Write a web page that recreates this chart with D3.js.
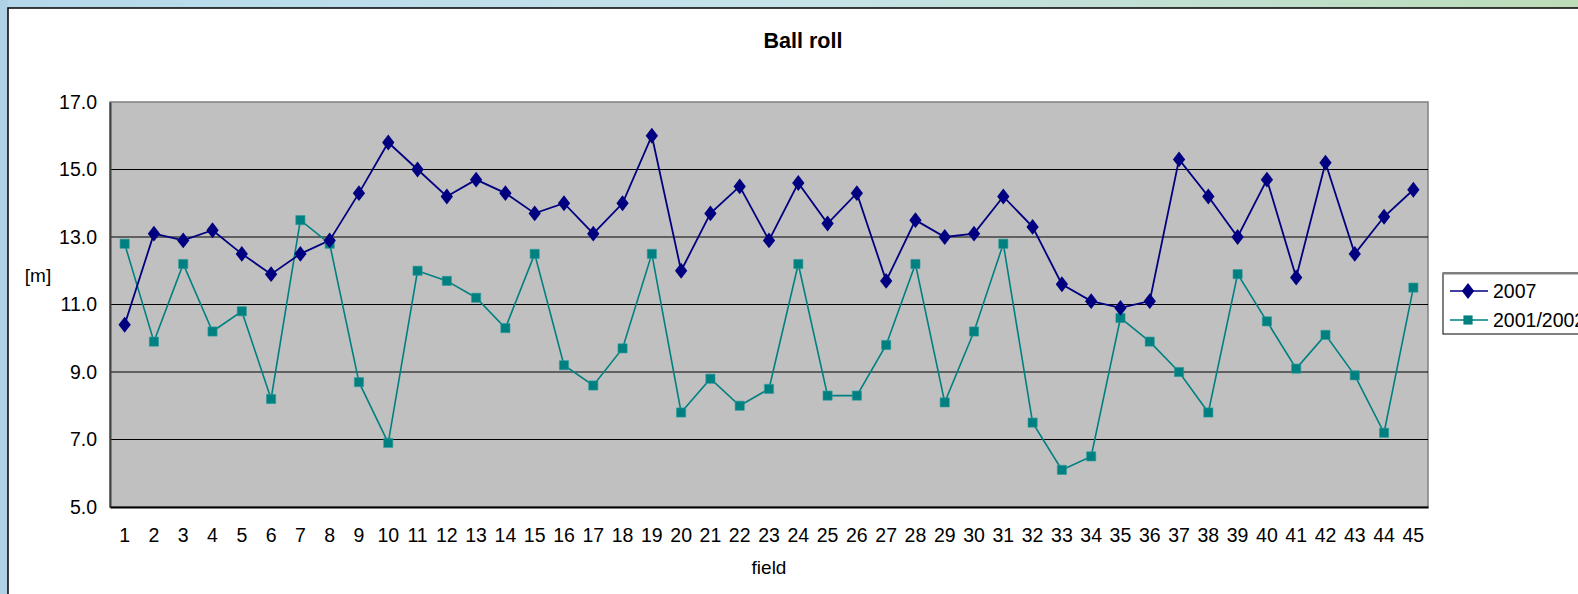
<!DOCTYPE html>
<html>
<head>
<meta charset="utf-8">
<script src="https://cdn.jsdelivr.net/npm/d3@7"></script>
<style>
  html, body { margin: 0; padding: 0; }
  body { width: 1578px; height: 594px; overflow: hidden; font-family: "Liberation Sans", Arial, sans-serif; }
</style>
</head>
<body>
<svg id="chart" width="1578" height="594"></svg>
<script>
// Data ==================================================================
var fields = d3.range(1, 46);
var series2007 = [10.4, 13.1, 12.9, 13.2, 12.5, 11.9, 12.5, 12.9, 14.3, 15.8,
                  15.0, 14.2, 14.7, 14.3, 13.7, 14.0, 13.1, 14.0, 16.0, 12.0,
                  13.7, 14.5, 12.9, 14.6, 13.4, 14.3, 11.7, 13.5, 13.0, 13.1,
                  14.2, 13.3, 11.6, 11.1, 10.9, 11.1, 15.3, 14.2, 13.0, 14.7,
                  11.8, 15.2, 12.5, 13.6, 14.4];
var series2001 = [12.8, 9.9, 12.2, 10.2, 10.8, 8.2, 13.5, 12.8, 8.7, 6.9,
                  12.0, 11.7, 11.2, 10.3, 12.5, 9.2, 8.6, 9.7, 12.5, 7.8,
                  8.8, 8.0, 8.5, 12.2, 8.3, 8.3, 9.8, 12.2, 8.1, 10.2,
                  12.8, 7.5, 6.1, 6.5, 10.6, 9.9, 9.0, 7.8, 11.9, 10.5,
                  9.1, 10.1, 8.9, 7.2, 11.5];
var yTicks = [5, 7, 9, 11, 13, 15, 17];
var seriesNames = ["2007", "2001/2002"];

// Layout ================================================================
var svg = d3.select("#chart");
var plotLeft = 110, plotRight = 1428, plotTop = 102, plotBottom = 507;

// page background behind the white card
var grad = svg.append("defs").append("linearGradient")
    .attr("id", "bg").attr("x1", "0").attr("x2", "1").attr("y1", "0").attr("y2", "0");
grad.append("stop").attr("offset", "0").attr("stop-color", "#b4d8ea");
grad.append("stop").attr("offset", "0.5").attr("stop-color", "#c6e3ea");
grad.append("stop").attr("offset", "1").attr("stop-color", "#bcdcb8");
svg.append("rect").attr("width", 1578).attr("height", 594).attr("fill", "url(#bg)");
svg.append("rect").attr("x", 0).attr("y", 0).attr("width", 8).attr("height", 594).attr("fill", "#b0d2e6");

// the card
svg.append("rect").attr("x", 8).attr("y", 8).attr("width", 1600).attr("height", 600)
    .attr("fill", "#fff").attr("stroke", "#000").attr("stroke-width", 1.5);

var xScale = d3.scaleBand().domain(fields).range([plotLeft, plotRight]);
var yScale = d3.scaleLinear().domain([5, 17]).range([plotBottom, plotTop]);
var cx = function(d, i) { return xScale(fields[i]) + xScale.bandwidth() / 2; };

// plot area
svg.append("rect").attr("x", plotLeft).attr("y", plotTop)
    .attr("width", plotRight - plotLeft).attr("height", plotBottom - plotTop)
    .attr("fill", "#c0c0c0").attr("stroke", "#808080").attr("stroke-width", 1.5);

// gridlines
svg.append("g").selectAll("line")
    .data(yTicks.slice(1, -1))
    .enter().append("line")
    .attr("x1", plotLeft).attr("x2", plotRight)
    .attr("y1", function(d) { return yScale(d); })
    .attr("y2", function(d) { return yScale(d); })
    .attr("stroke", "#000").attr("stroke-width", 1);

// axes
var yAxis = d3.axisLeft(yScale).tickValues(yTicks).tickSize(0).tickPadding(13)
    .tickFormat(d3.format(".1f"));
var gy = svg.append("g").attr("transform", "translate(" + plotLeft + ",0)").call(yAxis);
gy.select(".domain").attr("stroke", "#404040").attr("stroke-width", 2);
gy.selectAll("text").attr("font-size", "19.5px").attr("fill", "#000")
    .attr("font-family", "Liberation Sans, Arial, sans-serif");

var xAxis = d3.axisBottom(xScale).tickSize(0).tickPadding(21);
var gx = svg.append("g").attr("transform", "translate(0," + plotBottom + ")").call(xAxis);
gx.select(".domain").attr("stroke", "#000").attr("stroke-width", 2);
gx.selectAll("text").attr("font-size", "19.5px").attr("fill", "#000")
    .attr("font-family", "Liberation Sans, Arial, sans-serif");

// titles
svg.append("text").attr("x", 803).attr("y", 48).attr("text-anchor", "middle")
    .attr("font-size", "21.5px").attr("font-weight", "bold").text("Ball roll");
svg.append("text").attr("x", 769).attr("y", 574).attr("text-anchor", "middle")
    .attr("font-size", "19px").text("field");
svg.append("text").attr("x", 38).attr("y", 282).attr("text-anchor", "middle")
    .attr("font-size", "19px").text("[m]");

// series
var line = d3.line()
    .x(function(d, i) { return cx(d, i); })
    .y(function(d) { return yScale(d); });

svg.append("path").datum(series2001).attr("d", line)
    .attr("fill", "none").attr("stroke", "#008080").attr("stroke-width", 1.6);
svg.append("path").datum(series2007).attr("d", line)
    .attr("fill", "none").attr("stroke", "#000080").attr("stroke-width", 1.8);

var square = d3.symbol().type(d3.symbolSquare).size(84);
var diamond = d3.symbol().type(d3.symbolDiamond).size(72);

svg.append("g").selectAll("path")
    .data(series2001).enter().append("path")
    .attr("d", square)
    .attr("transform", function(d, i) { return "translate(" + cx(d, i) + "," + yScale(d) + ")"; })
    .attr("fill", "#008080").attr("stroke", "#2a9a9a").attr("stroke-width", 0.6);

svg.append("g").selectAll("path")
    .data(series2007).enter().append("path")
    .attr("d", diamond)
    .attr("transform", function(d, i) { return "translate(" + cx(d, i) + "," + yScale(d) + ") scale(1.35,1)"; })
    .attr("fill", "#000080");

// legend
var lg = svg.append("g");
lg.append("rect").attr("x", 1443).attr("y", 273).attr("width", 200).attr("height", 61)
    .attr("fill", "#fff").attr("stroke", "#000").attr("stroke-width", 1);
lg.append("line").attr("x1", 1443).attr("x2", 1600).attr("y1", 273.5).attr("y2", 273.5)
    .attr("stroke", "#808080").attr("stroke-width", 2);
var legendColors = ["#000080", "#008080"];
var legendSymbols = [diamond, square];
seriesNames.forEach(function(name, i) {
    var y = 291 + i * 29;
    lg.append("line").attr("x1", 1450).attr("x2", 1488).attr("y1", y).attr("y2", y)
        .attr("stroke", legendColors[i]).attr("stroke-width", 1.6);
    lg.append("path").attr("d", legendSymbols[i])
        .attr("transform", "translate(1468," + y + ")" + (i === 0 ? " scale(1.35,1)" : ""))
        .attr("fill", legendColors[i]);
    lg.append("text").attr("x", 1493).attr("y", y + 7).attr("font-size", "19.5px").text(name);
});
</script>
</body>
</html>
